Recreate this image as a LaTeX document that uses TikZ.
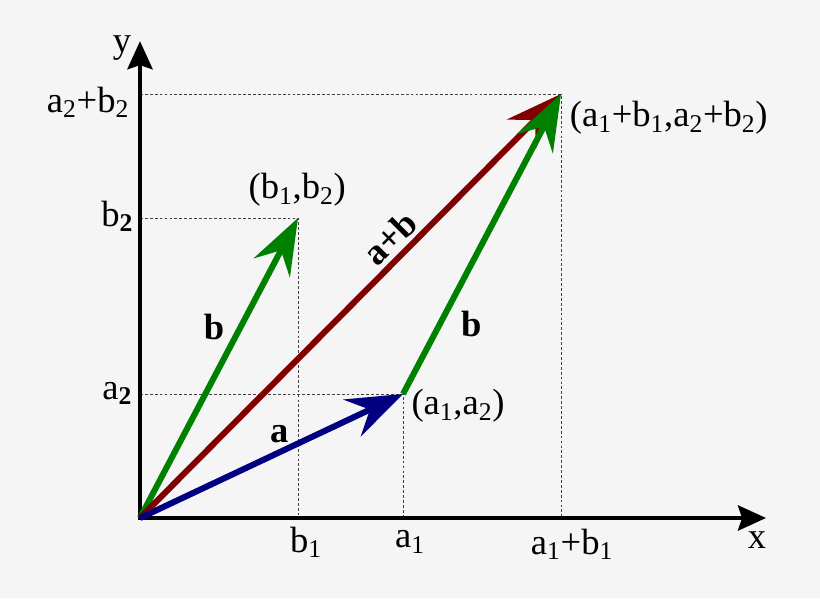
\documentclass[tikz,border=0pt]{standalone}
\usepackage{fontspec}
\setmainfont{Liberation Serif}
\usepackage{xcolor}
\usepackage{tikz}
\usetikzlibrary{arrows.meta}
\usetikzlibrary{positioning}
\definecolor{bgcol}{HTML}{F5F5F5}
\definecolor{vecgreen}{RGB}{0,128,0}
\definecolor{vecred}{RGB}{128,0,0}
\definecolor{vecblue}{RGB}{0,0,128}
\tikzset{
    axis/.style = {line width=2.5pt, black, {Stealth[length=20pt,width=18pt,inset=3pt]}-{Stealth[length=20pt,width=18pt,inset=3pt]}},
    vec/.style = {line width=4.3pt, -{Stealth[length=40pt,width=29pt,inset=14pt]}},
    guide/.style = {line width=0.6pt, black!75, dash pattern=on 2pt off 1.5pt},
    lbl/.style = {inner sep=0pt, font=\fontsize{26}{30}\selectfont},
    vlbl/.style = {inner sep=0pt, font=\fontsize{26}{30}\selectfont\bfseries},
}

\begin{document}
\begin{tikzpicture}
\useasboundingbox[fill=bgcol] (0,0) rectangle (20.5,14.95);
\coordinate (o) at (3.5,2.0);
\coordinate (a) at (10.075,5.1);
\coordinate (b) at (7.45,9.5);
\coordinate (s) at (14.025,12.6);
\coordinate (xtip) at (19.15,2.0);
\coordinate (ytip) at (3.5,13.92);
% guide lines
\draw[guide] (o |- s) -| (o -| s);
\draw[guide] (o |- b) -| (o -| b);
\draw[guide] (o |- a) -| (o -| a);
% axes
\draw[axis] (ytip) |- (xtip);
% vectors
\draw[vec, vecgreen] (o) -- (b);
\draw[vec, vecred] (o) -- (s);
\draw[vec, vecblue] (o) -- (a);
\draw[vec, vecgreen] (a) -- (s);
% axis labels
\node[lbl] (ly) at (3.05,13.75) {y};
\node[lbl] (lx) at (18.925,1.45) {x};
\node[lbl] (lys) at (2.2,12.4) {a\textsubscript{2}+b\textsubscript{2}};
\node[lbl] (lyb) at (2.93,9.55) {b\textsubscript{\textbf{2}}};
\node[lbl] (lya) at (2.93,5.12) {a\textsubscript{\textbf{2}}};
\node[lbl] (lxb) at (7.65,1.4) {b\textsubscript{1}};
\node[lbl] (lxa) at (10.25,1.4) {a\textsubscript{1}};
\node[lbl] (lxs) at (14.3,1.35) {a\textsubscript{1}+b\textsubscript{1}};
% point labels
\node[lbl] (pa) at (11.45,4.8) {(a\textsubscript{1},a\textsubscript{2})};
\node[lbl] (pb) at (7.43,10.2) {(b\textsubscript{1},b\textsubscript{2})};
\node[lbl] (ps) at (16.72,12.0) {(a\textsubscript{1}+b\textsubscript{1},a\textsubscript{2}+b\textsubscript{2})};
% vector labels
\node[vlbl] (va) at (6.98,4.1) {a};
\node[vlbl] (vb) at (5.35,6.78) {b};
\node[vlbl] (vb2) at (11.78,6.85) {b};
\node[vlbl, rotate=45] (vs) at (9.75,9.0) {a+b};
\end{tikzpicture}
\end{document}
